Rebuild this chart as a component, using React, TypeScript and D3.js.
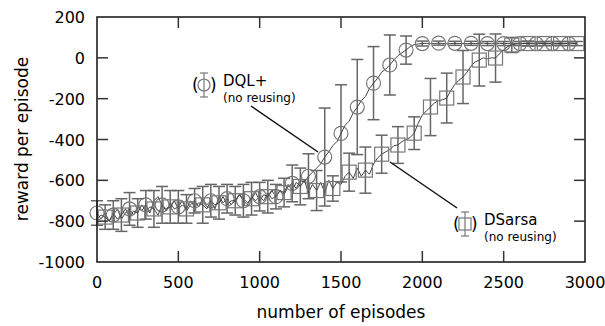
import React, { useEffect, useRef } from 'react'
import * as d3 from 'd3'

// episode step of the averaged curves
const step = 25

// DQL+ (no reusing), one value every 25 episodes
const dqlLine = [
  -760, -790, -760, -800, -770, -740, -790, -760, -740, -770, -730, -750,
  -720, -760, -700, -680, -720, -750, -710, -740, -730, -700, -750, -720,
  -700, -730, -690, -720, -700, -740, -680, -710, -690, -720, -700, -670,
  -700, -720, -680, -700, -680, -700, -660, -690, -680, -650, -670, -630,
  -615, -640, -600, -610, -580, -560, -540, -520, -486, -460, -430, -410,
  -370, -330, -310, -270, -241, -210, -190, -150, -124, -100, -70, -55,
  -35, -10, 10, 25, 38, 55, 65, 68,
  70, 71, 69, 70, 72, 70, 69, 70, 71, 70, 70, 69, 71, 70, 70, 72, 70, 69, 70, 71,
  70, 70, 69, 71, 70, 70, 72, 70, 69, 70, 71, 70, 70, 69, 71, 70, 70, 72, 70,
]

// DSarsa (no reusing), one value every 25 episodes
const sarsaLine = [
  -790, -770, -780, -800, -760, -790, -770, -740, -780, -750, -760, -720,
  -750, -730, -740, -770, -720, -740, -730, -700, -740, -720, -740, -700,
  -730, -710, -720, -740, -700, -720, -710, -680, -720, -700, -700, -670,
  -690, -710, -690, -660, -700, -670, -680, -650, -680, -650, -660, -620,
  -650, -610, -630, -600, -660, -620, -650, -610, -660, -600, -640, -610,
  -620, -580, -560, -590, -540, -580, -550, -570, -520, -490, -472, -460,
  -450, -430, -427, -410, -400, -390, -369, -320, -280, -260, -241, -220,
  -210, -205, -197, -160, -130, -110, -94, -70, -40, -20, -11, 0,
  -5, 0, -1, 20, 40, 55, 63, 68,
  70, 71, 70, 69, 70, 72, 70, 70, 71, 69, 70, 70, 72, 70, 70,
]

// error bar half widths at the markers (DQL+ at 0,100,..; DSarsa at 50,150,..)
const dqlErr = [
  60, 70, 80, 70, 90, 80, 60, 80, 70, 80, 70, 60, 90, 110, 240,
  238, 233, 179, 147, 69, 12, 10, 10, 10, 10, 10, 10, 10, 10, 10,
]
const sarsaErr = [
  60, 80, 70, 90, 80, 70, 90, 80, 70, 80, 80, 70, 90, 98, 62,
  93, 113, 93, 90, 80, 140, 122, 130, 127, 118, 37, 12, 10, 10, 10,
]

const xTicks = [0, 500, 1000, 1500, 2000, 2500, 3000]
const yTicks = [-1000, -800, -600, -400, -200, 0, 200]

const App = () => {
  const svgRef = useRef<SVGSVGElement>(null)

  useEffect(() => {
    document.body.style.margin = '0'
    const W = 605
    const H = 326
    const margin = { top: 17, right: 20, bottom: 64, left: 97 }
    const width = W - margin.left - margin.right
    const height = H - margin.top - margin.bottom
    const font = 'DejaVu Sans, sans-serif'

    const svg = d3.select(svgRef.current).attr('width', W).attr('height', H)
    svg.selectAll('*').remove()

    const x = d3.scaleLinear().domain([0, 3000]).range([0, width])
    const y = d3.scaleLinear().domain([-1000, 200]).range([height, 0])

    const g = svg.append('g').attr('transform', `translate(${margin.left},${margin.top})`)

    const lineGen = d3
      .line<number>()
      .x((d, i) => x(i * step))
      .y((d) => y(d))

    const series = [
      { data: dqlLine, err: dqlErr, offset: 0, shape: 'circle' },
      { data: sarsaLine, err: sarsaErr, offset: 2, shape: 'square' },
    ]

    series.forEach((s) => {
      const pts = s.err.map((e, k) => {
        const idx = k * 4 + s.offset
        return { ep: idx * step, v: s.data[idx], e }
      })

      // error bars
      const eb = g.append('g').attr('stroke', '#666').attr('stroke-width', 1.5).attr('fill', 'none')
      pts.forEach((p) => {
        const px = x(p.ep)
        const y0 = y(p.v + p.e)
        const y1 = y(p.v - p.e)
        eb.append('line').attr('x1', px).attr('x2', px).attr('y1', y0).attr('y2', y1)
        eb.append('line').attr('x1', px - 6).attr('x2', px + 6).attr('y1', y0).attr('y2', y0)
        eb.append('line').attr('x1', px - 6).attr('x2', px + 6).attr('y1', y1).attr('y2', y1)
      })

      // line
      g.append('path')
        .datum(s.data)
        .attr('d', lineGen)
        .attr('fill', 'none')
        .attr('stroke', '#444')
        .attr('stroke-width', 1)

      // markers
      const mk = g.append('g').attr('stroke', '#777').attr('stroke-width', 1.2).attr('fill', 'none')
      pts.forEach((p) => {
        if (s.shape === 'circle') {
          mk.append('circle').attr('cx', x(p.ep)).attr('cy', y(p.v)).attr('r', 7)
        } else {
          mk.append('rect')
            .attr('x', x(p.ep) - 7)
            .attr('y', y(p.v) - 7)
            .attr('width', 14)
            .attr('height', 14)
        }
      })
    })

    // frame
    g.append('rect')
      .attr('width', width)
      .attr('height', height)
      .attr('fill', 'none')
      .attr('stroke', '#111')
      .attr('stroke-width', 1.5)

    // inward ticks on all sides
    const tk = g.append('g').attr('stroke', '#333').attr('stroke-width', 1.5)
    xTicks.slice(1, -1).forEach((t) => {
      tk.append('line').attr('x1', x(t)).attr('x2', x(t)).attr('y1', height).attr('y2', height - 11)
      tk.append('line').attr('x1', x(t)).attr('x2', x(t)).attr('y1', 0).attr('y2', 11)
    })
    yTicks.slice(1, -1).forEach((t) => {
      tk.append('line').attr('x1', 0).attr('x2', 11).attr('y1', y(t)).attr('y2', y(t))
      tk.append('line').attr('x1', width).attr('x2', width - 11).attr('y1', y(t)).attr('y2', y(t))
    })

    // tick labels
    g.selectAll('.xl')
      .data(xTicks)
      .enter()
      .append('text')
      .text((d) => d)
      .attr('x', (d) => x(d))
      .attr('y', height + 26)
      .attr('text-anchor', 'middle')
      .style('font-family', font)
      .style('font-size', '16px')

    g.selectAll('.yl')
      .data(yTicks)
      .enter()
      .append('text')
      .text((d) => d)
      .attr('x', -12)
      .attr('y', (d) => y(d) + 6)
      .attr('text-anchor', 'end')
      .style('font-family', font)
      .style('font-size', '16px')

    // axis titles
    svg
      .append('text')
      .text('number of episodes')
      .attr('x', margin.left + width / 2)
      .attr('y', 318)
      .attr('text-anchor', 'middle')
      .style('font-family', font)
      .style('font-size', '17px')

    svg
      .append('text')
      .text('reward per episode')
      .attr('transform', 'rotate(-90)')
      .attr('x', -139)
      .attr('y', 28)
      .attr('text-anchor', 'middle')
      .style('font-family', font)
      .style('font-size', '17px')

    // callout lines
    svg.append('line').attr('x1', 251).attr('y1', 106).attr('x2', 318).attr('y2', 152)
      .attr('stroke', '#111').attr('stroke-width', 1.5)
    svg.append('line').attr('x1', 390).attr('y1', 162).attr('x2', 457).attr('y2', 208)
      .attr('stroke', '#111').attr('stroke-width', 1.5)

    // legend entries
    const legend = [
      { name: 'DQL+', cx: 204, cy: 85, shape: 'circle' },
      { name: 'DSarsa', cx: 465, cy: 224, shape: 'square' },
    ]
    legend.forEach((l) => {
      const lg = svg.append('g')
      lg.append('text').text('(').attr('x', l.cx - 12).attr('y', l.cy + 6)
        .style('font-family', font).style('font-size', '17px')
      lg.append('text').text(')').attr('x', l.cx + 6).attr('y', l.cy + 6)
        .style('font-family', font).style('font-size', '17px')
      const m = lg.append('g').attr('stroke', '#777').attr('stroke-width', 1.2).attr('fill', 'none')
      m.append('line').attr('x1', l.cx).attr('x2', l.cx).attr('y1', l.cy - 12).attr('y2', l.cy + 12)
      m.append('line').attr('x1', l.cx - 4).attr('x2', l.cx + 4).attr('y1', l.cy - 12).attr('y2', l.cy - 12)
      m.append('line').attr('x1', l.cx - 4).attr('x2', l.cx + 4).attr('y1', l.cy + 12).attr('y2', l.cy + 12)
      if (l.shape === 'circle') {
        m.append('circle').attr('cx', l.cx).attr('cy', l.cy).attr('r', 6)
      } else {
        m.append('rect').attr('x', l.cx - 6).attr('y', l.cy - 6).attr('width', 12).attr('height', 12)
      }
      lg.append('text').text(l.name).attr('x', l.cx + 19).attr('y', l.cy + 1)
        .style('font-family', font).style('font-size', '15px')
      lg.append('text').text('(no reusing)').attr('x', l.cx + 19).attr('y', l.cy + 17)
        .style('font-family', font).style('font-size', '12px')
    })
  }, [])

  return <svg ref={svgRef} style={{ display: 'block' }}></svg>
}

export default App
